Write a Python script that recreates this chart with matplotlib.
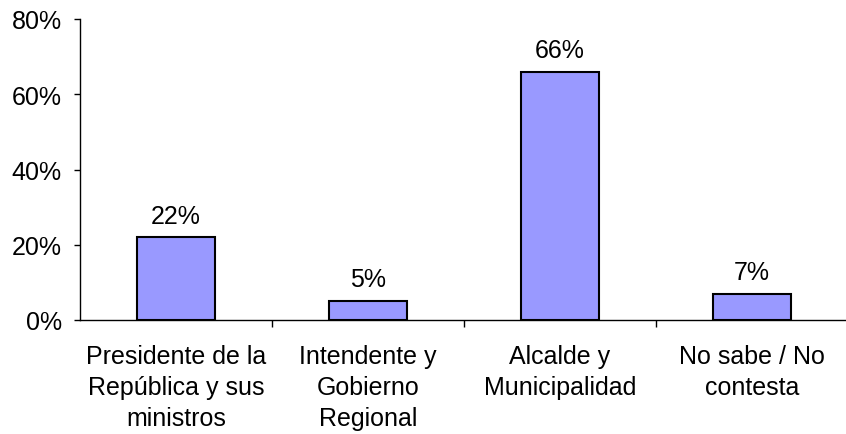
import numpy as np
import matplotlib
matplotlib.use("Agg")
import matplotlib.pyplot as plt
from matplotlib.ticker import FixedLocator, PercentFormatter

categories = ["Presidente de la\nRepública y sus\nministros",
              "Intendente y\nGobierno\nRegional",
              "Alcalde y\nMunicipalidad",
              "No sabe / No\ncontesta"]
values = [22, 5, 66, 7]
value_labels = ["22%", "5%", "66%", "7%"]
yticks = [0, 20, 40, 60, 80]

plt.rcParams['font.family'] = ['Liberation Sans', 'DejaVu Sans']
fs = 18

fig = plt.figure(figsize=(8.46, 4.35), dpi=100)
ax = fig.add_axes([80/846, 1 - 321/435, 768/846, 301/435])

x = np.arange(len(categories))
ax.bar(x, values, width=0.41, color="#9999FF", edgecolor="black", linewidth=1.5, zorder=3)

for xi, v, lab in zip(x, values, value_labels):
    ax.annotate(lab, (xi, v), xytext=(0, 7), textcoords="offset points",
                ha="center", va="bottom", fontsize=fs)

ax.set_xlim(-0.5, len(categories) - 0.5)
ax.set_ylim(0, 80)
ax.set_yticks(yticks)
ax.yaxis.set_major_formatter(PercentFormatter(decimals=0))
ax.tick_params(axis="y", labelsize=fs, length=4, width=1, direction="out", pad=9)

ax.set_xticks(x)
ax.set_xticklabels(categories, fontsize=fs, linespacing=1.38)
ax.tick_params(axis="x", which="major", length=0, pad=17)
ax.xaxis.set_minor_locator(FixedLocator(np.arange(0.5, len(categories) - 0.5, 1)))
ax.tick_params(axis="x", which="minor", length=5, width=1, direction="out")

ax.spines["top"].set_visible(False)
ax.spines["right"].set_visible(False)
for s in ["left", "bottom"]:
    ax.spines[s].set_linewidth(1)

fig.savefig("out.png", dpi=100)
